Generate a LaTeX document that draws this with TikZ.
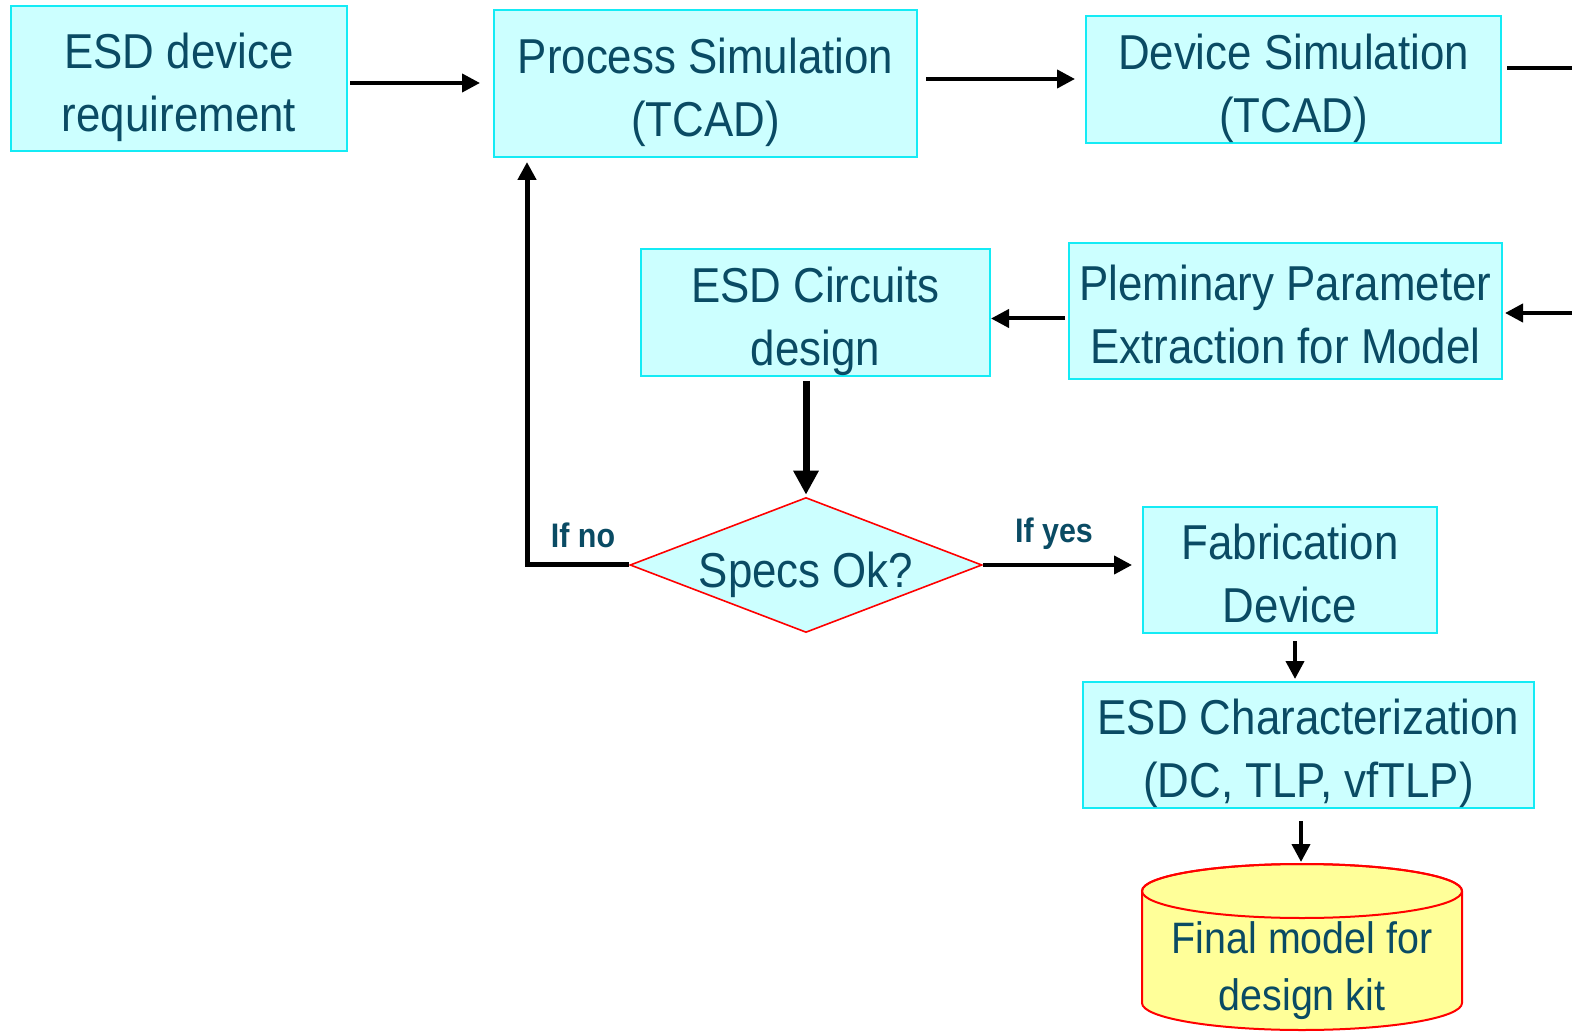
\documentclass[tikz,border=0pt]{standalone}
\usepackage{fontspec}
\setmainfont{Liberation Sans}[FakeStretch=0.895]
\usetikzlibrary{arrows.meta,shapes.geometric}
\definecolor{boxfill}{RGB}{204,255,255}
\definecolor{boxdraw}{RGB}{20,235,245}
\definecolor{textcol}{RGB}{10,75,100}
\definecolor{kitfill}{RGB}{255,255,153}
\newcommand\mainfnt{\fontsize{24.5}{31.5}\selectfont}
\newcommand\kitfnt{\fontsize{22}{28.5}\selectfont}
\newcommand\lblfnt{\fontsize{17}{20}\selectfont\bfseries}
\newcommand\tx[1]{\raisebox{-4.25pt}[\height][\depth]{\begin{tabular}{@{}c@{}}#1\end{tabular}}}
\tikzset{
  pbox/.style={draw=boxdraw, fill=boxfill, line width=1pt, inner sep=0pt, align=center, font=\mainfnt, text=textcol},
  arr/.style={line width=2pt, -{Triangle[length=9pt,width=9pt]}},
  plain/.style={line width=2pt},
  lbl/.style={font=\lblfnt, text=textcol, inner sep=0pt}
}
\begin{document}
\begin{tikzpicture}[x=0.5pt,y=-0.5pt]
\useasboundingbox (0,0) rectangle (1572,1036);
% boxes
\node[pbox, minimum width=168pt, minimum height=72.5pt] (req) at (179,78.5) {\tx{ESD device\\requirement}};
\node[pbox, minimum width=211.5pt, minimum height=73.5pt] (proc) at (705.5,83.5) {\tx{Process Simulation\\(TCAD)}};
\node[pbox, minimum width=207.5pt, minimum height=63.5pt] (dev) at (1293.5,79.5) {\tx{Device Simulation\\(TCAD)}};
\node[pbox, minimum width=216.5pt, minimum height=68pt] (plem) at (1285.5,311) {\tx{Pleminary Parameter\\Extraction for Model}};
\node[pbox, minimum width=174.5pt, minimum height=63.5pt] (circ) at (815.5,312.5) {\tx{ESD Circuits\\design}};
\node[draw=red, fill=boxfill, line width=0.8pt, shape=diamond, aspect=2.6, inner sep=0pt,
      minimum width=176pt, minimum height=67.5pt, font=\mainfnt, text=textcol] (dia) at (806,565) {\raisebox{-5pt}[\height][\depth]{Specs Ok?}};
\node[pbox, minimum width=147pt, minimum height=63pt] (fab) at (1290,570) {\tx{Fabrication\\Device}};
\node[pbox, minimum width=225.5pt, minimum height=59pt] (char) at (1308.5,745) {\tx{ESD Characterization\\(DC, TLP, vfTLP)}};
% cylinder
\path[fill=kitfill, draw=red, line width=1pt] (1142,891) -- (1142,1003)
  arc[start angle=180, end angle=360, x radius=80pt, y radius=13.5pt] -- (1462,891)
  arc[start angle=0, end angle=180, x radius=80pt, y radius=13.5pt] -- cycle;
\draw[red, line width=1pt] (1302,891) ellipse [x radius=80pt, y radius=13.5pt];
\coordinate (kittop) at (1301,864);
\node[font=\kitfnt, text=textcol, inner sep=0pt] (kit) at (1302,971) {\begin{tabular}{@{}c@{}}Final model for\\design kit\end{tabular}};
% page-edge coordinates
\coordinate (outA) at (1572,68);
\coordinate (outB) at (1572,313);
\coordinate (bend) at (527,565);
% connectors
\draw[arr, shorten <=1pt, shorten >=6.5pt] ([yshift=-2.25pt]req.east) -- ([yshift=-2.25pt]req.east -| proc.west);
\draw[arr, shorten <=4pt, shorten >=5pt] ([yshift=2.25pt]proc.east) -- ([yshift=2.25pt]proc.east -| dev.west);
\draw[plain, shorten <=2.5pt] ([yshift=5.75pt]dev.east) -- (outA);
\draw[arr, shorten >=1pt] (outB) -- (outB -| plem.east);
\draw[arr, shorten <=1.5pt] ([yshift=-3.75pt]plem.west) -- ([yshift=-3.75pt]plem.west -| circ.east);
\draw[line width=3.5pt, -{Triangle[length=12pt,width=12pt]}, shorten <=2pt, shorten >=1pt] (dia.north |- circ.south) -- (dia.north);
\draw[line width=2.5pt, -{Triangle[length=9pt,width=9pt]}, shorten >=2pt] (dia.west) -- (bend) -- (bend |- proc.south);
\draw[arr, shorten >=5pt] (dia.east) -- (dia.east -| fab.west);
\draw[arr, shorten <=3.5pt, shorten >=1pt] ([xshift=2.5pt]fab.south) -- ([xshift=2.5pt]fab.south |- char.north);
\draw[arr, shorten <=6pt, shorten >=1pt] (kittop |- char.south) -- (kittop);
% labels
\node[lbl] (ifno) at (583,535) {If no};
\node[lbl] (ifyes) at (1054,534) {If yes};
\end{tikzpicture}
\end{document}
